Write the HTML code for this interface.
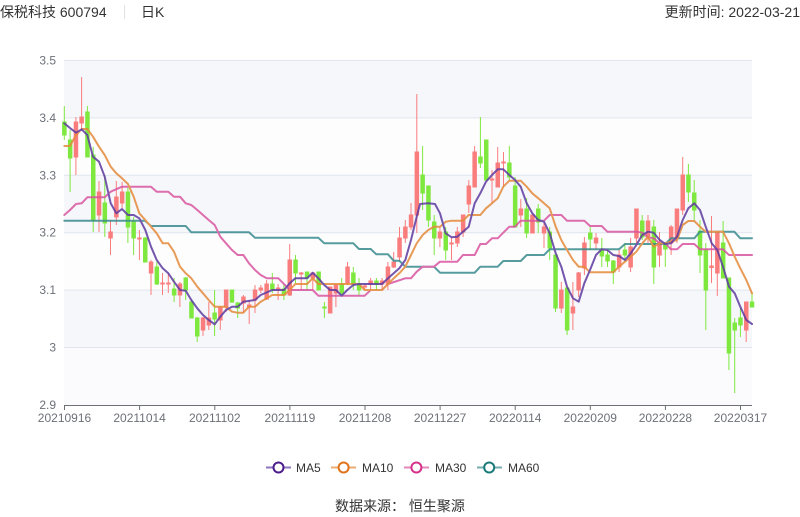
<!DOCTYPE html>
<html><head><meta charset="utf-8"><style>
html,body{margin:0;padding:0;background:#fff;}
body{width:800px;height:517px;overflow:hidden;position:relative;font-family:"Liberation Sans","Noto Sans CJK SC",sans-serif;}
.t{position:absolute;font-size:14px;color:#333;white-space:nowrap;}
</style></head><body>
<div class="t" style="left:0;top:2px;">保税科技 600794</div>
<div style="position:absolute;left:124px;top:5px;width:1px;height:14px;background:#e2e2e2;"></div>
<div class="t" style="left:141px;top:2px;">日K</div>
<div class="t" style="right:0;top:2px;">更新时间: 2022-03-21</div>
<svg width="800" height="517" style="position:absolute;left:0;top:0;" xmlns="http://www.w3.org/2000/svg">
<rect x="64" y="60.5" width="688" height="57.4" fill="#f5f7fb"/>
<rect x="64" y="117.9" width="688" height="57.4" fill="#fdfdfe"/>
<rect x="64" y="175.3" width="688" height="57.4" fill="#f5f7fb"/>
<rect x="64" y="232.7" width="688" height="57.4" fill="#fdfdfe"/>
<rect x="64" y="290.1" width="688" height="57.4" fill="#f5f7fb"/>
<rect x="64" y="347.5" width="688" height="57.4" fill="#fbfbfd"/>
<g stroke="#e0e5ee" stroke-width="1">
<line x1="64" x2="752" y1="60.5" y2="60.5"/>
<line x1="64" x2="752" y1="117.9" y2="117.9"/>
<line x1="64" x2="752" y1="175.3" y2="175.3"/>
<line x1="64" x2="752" y1="232.7" y2="232.7"/>
<line x1="64" x2="752" y1="290.1" y2="290.1"/>
<line x1="64" x2="752" y1="347.5" y2="347.5"/>
</g>
<g font-size="12" fill="#6e7079" text-anchor="end" font-family="Liberation Sans, sans-serif">
<text x="56" y="64.5">3.5</text>
<text x="56" y="121.9">3.4</text>
<text x="56" y="179.3">3.3</text>
<text x="56" y="236.7">3.2</text>
<text x="56" y="294.1">3.1</text>
<text x="56" y="351.5">3</text>
<text x="56" y="408.9">2.9</text>
</g>
<g stroke="#7ee83f" fill="#7ee83f">
<line x1="64.3" x2="64.3" y1="106" y2="140"/><rect x="62.6" y="122" width="3.5" height="13"/>
<line x1="70.1" x2="70.1" y1="130" y2="192"/><rect x="68.4" y="140" width="3.5" height="18"/>
<line x1="87.4" x2="87.4" y1="106" y2="157"/><rect x="85.7" y="112" width="3.5" height="45"/>
<line x1="93.2" x2="93.2" y1="147" y2="232"/><rect x="91.5" y="155" width="3.5" height="65"/>
<line x1="104.8" x2="104.8" y1="175" y2="237"/><rect x="103.1" y="203" width="3.5" height="20"/>
<line x1="127.9" x2="127.9" y1="188" y2="243"/><rect x="126.2" y="192" width="3.5" height="35"/>
<line x1="133.6" x2="133.6" y1="217" y2="255"/><rect x="131.9" y="222" width="3.5" height="16"/>
<line x1="145.2" x2="145.2" y1="237" y2="262"/><rect x="143.5" y="238" width="3.5" height="24"/>
<line x1="156.8" x2="156.8" y1="262" y2="285"/><rect x="155.1" y="267" width="3.5" height="17"/>
<line x1="174.1" x2="174.1" y1="278" y2="302"/><rect x="172.4" y="289" width="3.5" height="6"/>
<line x1="185.7" x2="185.7" y1="277" y2="300"/><rect x="184" y="278" width="3.5" height="12"/>
<line x1="191.4" x2="191.4" y1="300" y2="318"/><rect x="189.7" y="302" width="3.5" height="16"/>
<line x1="197.2" x2="197.2" y1="317" y2="342"/><rect x="195.5" y="318" width="3.5" height="18"/>
<line x1="214.6" x2="214.6" y1="290" y2="336"/><rect x="212.9" y="313" width="3.5" height="6"/>
<line x1="231.9" x2="231.9" y1="290" y2="303"/><rect x="230.2" y="290" width="3.5" height="12"/>
<line x1="237.7" x2="237.7" y1="302" y2="318"/><rect x="236" y="303" width="3.5" height="5"/>
<line x1="272.3" x2="272.3" y1="273" y2="293"/><rect x="270.6" y="284" width="3.5" height="6"/>
<line x1="283.9" x2="283.9" y1="284" y2="300"/><rect x="282.2" y="289" width="3.5" height="6"/>
<line x1="295.5" x2="295.5" y1="255" y2="283"/><rect x="293.8" y="260" width="3.5" height="13"/>
<line x1="307" x2="307" y1="272" y2="290"/><rect x="305.3" y="272" width="3.5" height="6"/>
<line x1="318.6" x2="318.6" y1="272" y2="290"/><rect x="316.9" y="272" width="3.5" height="18"/>
<line x1="324.4" x2="324.4" y1="302" y2="318"/><rect x="322.7" y="307" width="3.5" height="1"/>
<line x1="341.7" x2="341.7" y1="278" y2="295"/><rect x="340" y="284" width="3.5" height="9"/>
<line x1="353.3" x2="353.3" y1="267" y2="290"/><rect x="351.6" y="273" width="3.5" height="11"/>
<line x1="359" x2="359" y1="278" y2="295"/><rect x="357.3" y="284" width="3.5" height="6"/>
<line x1="376.4" x2="376.4" y1="278" y2="290"/><rect x="374.7" y="281" width="3.5" height="3"/>
<line x1="422.6" x2="422.6" y1="146" y2="210"/><rect x="420.9" y="175" width="3.5" height="18"/>
<line x1="428.4" x2="428.4" y1="186" y2="227"/><rect x="426.7" y="186" width="3.5" height="34"/>
<line x1="434.2" x2="434.2" y1="215" y2="255"/><rect x="432.5" y="222" width="3.5" height="16"/>
<line x1="445.7" x2="445.7" y1="227" y2="260"/><rect x="444" y="232" width="3.5" height="18"/>
<line x1="480.4" x2="480.4" y1="117" y2="168"/><rect x="478.7" y="157" width="3.5" height="6"/>
<line x1="486.2" x2="486.2" y1="140" y2="180"/><rect x="484.5" y="140" width="3.5" height="40"/>
<line x1="509.3" x2="509.3" y1="146" y2="180"/><rect x="507.6" y="163" width="3.5" height="14"/>
<line x1="515.1" x2="515.1" y1="177" y2="227"/><rect x="513.4" y="186" width="3.5" height="41"/>
<line x1="526.6" x2="526.6" y1="198" y2="238"/><rect x="524.9" y="209" width="3.5" height="24"/>
<line x1="538.2" x2="538.2" y1="204" y2="233"/><rect x="536.5" y="209" width="3.5" height="13"/>
<line x1="549.7" x2="549.7" y1="227" y2="260"/><rect x="548" y="232" width="3.5" height="16"/>
<line x1="555.5" x2="555.5" y1="255" y2="312"/><rect x="553.8" y="255" width="3.5" height="53"/>
<line x1="567.1" x2="567.1" y1="288" y2="335"/><rect x="565.4" y="288" width="3.5" height="42"/>
<line x1="590.2" x2="590.2" y1="227" y2="250"/><rect x="588.5" y="233" width="3.5" height="6"/>
<line x1="601.8" x2="601.8" y1="238" y2="267"/><rect x="600.1" y="250" width="3.5" height="6"/>
<line x1="607.5" x2="607.5" y1="250" y2="267"/><rect x="605.8" y="255" width="3.5" height="6"/>
<line x1="613.3" x2="613.3" y1="260" y2="284"/><rect x="611.6" y="261" width="3.5" height="11"/>
<line x1="624.9" x2="624.9" y1="243" y2="261"/><rect x="623.2" y="250" width="3.5" height="5"/>
<line x1="642.2" x2="642.2" y1="215" y2="240"/><rect x="640.5" y="221" width="3.5" height="16"/>
<line x1="653.8" x2="653.8" y1="220" y2="284"/><rect x="652.1" y="227" width="3.5" height="40"/>
<line x1="665.3" x2="665.3" y1="243" y2="267"/><rect x="663.6" y="243" width="3.5" height="6"/>
<line x1="688.4" x2="688.4" y1="164" y2="202"/><rect x="686.7" y="175" width="3.5" height="17"/>
<line x1="694.2" x2="694.2" y1="180" y2="220"/><rect x="692.5" y="193" width="3.5" height="17"/>
<line x1="700" x2="700" y1="220" y2="273"/><rect x="698.3" y="231" width="3.5" height="24"/>
<line x1="705.8" x2="705.8" y1="243" y2="330"/><rect x="704.1" y="250" width="3.5" height="40"/>
<line x1="723.1" x2="723.1" y1="221" y2="278"/><rect x="721.4" y="243" width="3.5" height="35"/>
<line x1="728.9" x2="728.9" y1="278" y2="370"/><rect x="727.2" y="278" width="3.5" height="75"/>
<line x1="734.7" x2="734.7" y1="318" y2="393"/><rect x="733" y="323" width="3.5" height="7"/>
<line x1="740.4" x2="740.4" y1="308" y2="337"/><rect x="738.7" y="318" width="3.5" height="7"/>
<line x1="752" x2="752" y1="292" y2="307"/><rect x="750.3" y="302" width="3.5" height="5"/>
</g>
<g stroke="#fa7d7d" fill="#fa7d7d">
<line x1="75.9" x2="75.9" y1="117" y2="175"/><rect x="74.2" y="122" width="3.5" height="35"/>
<line x1="81.6" x2="81.6" y1="77" y2="130"/><rect x="79.9" y="117" width="3.5" height="6"/>
<line x1="99" x2="99" y1="181" y2="232"/><rect x="97.3" y="192" width="3.5" height="23"/>
<line x1="110.5" x2="110.5" y1="220" y2="255"/><rect x="108.8" y="232" width="3.5" height="6"/>
<line x1="116.3" x2="116.3" y1="181" y2="225"/><rect x="114.6" y="197" width="3.5" height="20"/>
<line x1="122.1" x2="122.1" y1="182" y2="208"/><rect x="120.4" y="192" width="3.5" height="11"/>
<line x1="139.4" x2="139.4" y1="230" y2="260"/><rect x="137.7" y="238" width="3.5" height="1"/>
<line x1="151" x2="151" y1="260" y2="295"/><rect x="149.3" y="262" width="3.5" height="11"/>
<line x1="162.5" x2="162.5" y1="273" y2="295"/><rect x="160.8" y="283" width="3.5" height="1"/>
<line x1="168.3" x2="168.3" y1="273" y2="293"/><rect x="166.6" y="283" width="3.5" height="1"/>
<line x1="179.9" x2="179.9" y1="282" y2="307"/><rect x="178.2" y="284" width="3.5" height="11"/>
<line x1="203" x2="203" y1="317" y2="336"/><rect x="201.3" y="318" width="3.5" height="12"/>
<line x1="208.8" x2="208.8" y1="302" y2="330"/><rect x="207.1" y="318" width="3.5" height="7"/>
<line x1="220.3" x2="220.3" y1="307" y2="330"/><rect x="218.6" y="307" width="3.5" height="13"/>
<line x1="226.1" x2="226.1" y1="290" y2="312"/><rect x="224.4" y="290" width="3.5" height="17"/>
<line x1="243.4" x2="243.4" y1="295" y2="313"/><rect x="241.7" y="297" width="3.5" height="6"/>
<line x1="249.2" x2="249.2" y1="300" y2="324"/><rect x="247.5" y="305" width="3.5" height="2"/>
<line x1="255" x2="255" y1="285" y2="313"/><rect x="253.3" y="290" width="3.5" height="10"/>
<line x1="260.8" x2="260.8" y1="285" y2="293"/><rect x="259.1" y="288" width="3.5" height="2"/>
<line x1="266.6" x2="266.6" y1="280" y2="300"/><rect x="264.9" y="284" width="3.5" height="15"/>
<line x1="278.1" x2="278.1" y1="284" y2="300"/><rect x="276.4" y="288" width="3.5" height="1"/>
<line x1="289.7" x2="289.7" y1="244" y2="296"/><rect x="288" y="260" width="3.5" height="35"/>
<line x1="301.2" x2="301.2" y1="272" y2="290"/><rect x="299.5" y="273" width="3.5" height="1"/>
<line x1="312.8" x2="312.8" y1="273" y2="290"/><rect x="311.1" y="273" width="3.5" height="5"/>
<line x1="330.1" x2="330.1" y1="287" y2="313"/><rect x="328.4" y="287" width="3.5" height="26"/>
<line x1="335.9" x2="335.9" y1="284" y2="307"/><rect x="334.2" y="285" width="3.5" height="8"/>
<line x1="347.5" x2="347.5" y1="262" y2="285"/><rect x="345.8" y="267" width="3.5" height="16"/>
<line x1="364.8" x2="364.8" y1="284" y2="290"/><rect x="363.1" y="286" width="3.5" height="1"/>
<line x1="370.6" x2="370.6" y1="278" y2="290"/><rect x="368.9" y="281" width="3.5" height="3"/>
<line x1="382.1" x2="382.1" y1="278" y2="290"/><rect x="380.4" y="281" width="3.5" height="3"/>
<line x1="387.9" x2="387.9" y1="262" y2="290"/><rect x="386.2" y="267" width="3.5" height="17"/>
<line x1="393.7" x2="393.7" y1="252" y2="268"/><rect x="392" y="262" width="3.5" height="5"/>
<line x1="399.5" x2="399.5" y1="227" y2="262"/><rect x="397.8" y="238" width="3.5" height="19"/>
<line x1="405.3" x2="405.3" y1="220" y2="243"/><rect x="403.6" y="227" width="3.5" height="11"/>
<line x1="411" x2="411" y1="203" y2="230"/><rect x="409.3" y="215" width="3.5" height="12"/>
<line x1="416.8" x2="416.8" y1="94" y2="233"/><rect x="415.1" y="152" width="3.5" height="63"/>
<line x1="439.9" x2="439.9" y1="227" y2="247"/><rect x="438.2" y="232" width="3.5" height="6"/>
<line x1="451.5" x2="451.5" y1="237" y2="260"/><rect x="449.8" y="243" width="3.5" height="1"/>
<line x1="457.3" x2="457.3" y1="227" y2="247"/><rect x="455.6" y="232" width="3.5" height="11"/>
<line x1="463.1" x2="463.1" y1="215" y2="237"/><rect x="461.4" y="215" width="3.5" height="17"/>
<line x1="468.8" x2="468.8" y1="180" y2="213"/><rect x="467.1" y="186" width="3.5" height="18"/>
<line x1="474.6" x2="474.6" y1="146" y2="187"/><rect x="472.9" y="152" width="3.5" height="35"/>
<line x1="492" x2="492" y1="170" y2="203"/><rect x="490.3" y="179" width="3.5" height="1"/>
<line x1="497.7" x2="497.7" y1="147" y2="187"/><rect x="496" y="163" width="3.5" height="24"/>
<line x1="503.5" x2="503.5" y1="152" y2="187"/><rect x="501.8" y="162" width="3.5" height="1"/>
<line x1="520.8" x2="520.8" y1="199" y2="227"/><rect x="519.1" y="209" width="3.5" height="6"/>
<line x1="532.4" x2="532.4" y1="215" y2="233"/><rect x="530.7" y="215" width="3.5" height="18"/>
<line x1="544" x2="544" y1="222" y2="248"/><rect x="542.3" y="227" width="3.5" height="6"/>
<line x1="561.3" x2="561.3" y1="282" y2="313"/><rect x="559.6" y="290" width="3.5" height="18"/>
<line x1="572.9" x2="572.9" y1="282" y2="330"/><rect x="571.2" y="307" width="3.5" height="6"/>
<line x1="578.6" x2="578.6" y1="272" y2="297"/><rect x="576.9" y="273" width="3.5" height="17"/>
<line x1="584.4" x2="584.4" y1="237" y2="275"/><rect x="582.7" y="243" width="3.5" height="25"/>
<line x1="596" x2="596" y1="233" y2="250"/><rect x="594.3" y="238" width="3.5" height="5"/>
<line x1="619.1" x2="619.1" y1="250" y2="272"/><rect x="617.4" y="255" width="3.5" height="12"/>
<line x1="630.6" x2="630.6" y1="238" y2="272"/><rect x="628.9" y="247" width="3.5" height="20"/>
<line x1="636.4" x2="636.4" y1="209" y2="243"/><rect x="634.7" y="209" width="3.5" height="29"/>
<line x1="648" x2="648" y1="215" y2="243"/><rect x="646.3" y="221" width="3.5" height="16"/>
<line x1="659.5" x2="659.5" y1="232" y2="267"/><rect x="657.8" y="243" width="3.5" height="12"/>
<line x1="671.1" x2="671.1" y1="225" y2="255"/><rect x="669.4" y="227" width="3.5" height="16"/>
<line x1="676.9" x2="676.9" y1="209" y2="243"/><rect x="675.2" y="209" width="3.5" height="29"/>
<line x1="682.7" x2="682.7" y1="157" y2="215"/><rect x="681" y="175" width="3.5" height="35"/>
<line x1="711.5" x2="711.5" y1="216" y2="283"/><rect x="709.8" y="266" width="3.5" height="1.5"/>
<line x1="717.3" x2="717.3" y1="232" y2="296"/><rect x="715.6" y="232" width="3.5" height="41"/>
<line x1="746.2" x2="746.2" y1="302" y2="342"/><rect x="744.5" y="302" width="3.5" height="28"/>
</g>
<g fill="none" stroke-width="2" stroke-linejoin="round" stroke-linecap="round" opacity="0.85">
<polyline stroke="#3a8a8e" points="64.3,220.7 145,220.7 151,226 185.7,226 191.3,232.3 249,232.3 255,237.7 318.3,237.7 324.3,243.3 353.3,243.3 359,249 370.7,249 376.3,254.3 388,254.3 393.7,260.7 399.3,260.7 405.3,266.7 434,266.7 440,272.7 474.7,272.7 480.3,266.7 497.7,266.7 503.3,261 520.7,261 526.7,255 544,255 549.7,249.3 619,249.3 625,244 665.3,244 671,238.3 694.3,238.3 700,231.7 734.3,231.7 740.3,238.3 752,238.3"/>
<polyline stroke="#d9559f" points="64.3,215 70,210 76,204 81.7,203.3 87.3,197.3 104.7,197.3 110.7,191.7 122,186.7 151,186.7 156.7,191.7 168.3,191.7 174,196.7 180,196.7 185.7,203.3 191.3,205 197.3,210 203,215 208.7,220 214.7,225 220.3,236.7 226,243.3 232,250 237.7,255 243.3,255 249,263.3 255,270 260.7,275 266.7,278.3 278.3,278.3 284,284 289.7,290 312.7,290 318.3,295.7 364.7,295.7 370.7,290 382,290 388,284 405.3,278.3 411,278.3 416.7,271.7 422.7,266.7 434,266.7 440,261.7 457.3,261.7 463,255 474.7,255 480.3,244 486,244 492,238.3 497.7,238.3 503.3,232.7 509.3,226.7 515,226.7 520.7,220.7 544,220.7 549.7,215 561.3,215 567,220.7 584.3,220.7 590,226 601.7,226 607.3,231.7 636.3,231.7 642.3,232.7 648,237.3 653.7,238.3 659.7,243.3 665.3,243.3 671,249.3 677,249.3 682.7,244 694.3,244 700,249.3 723,249.3 729,255 752,255"/>
<polyline stroke="#e58a3a" points="64.3,146 70,146 76,135 81.7,129 87.3,129 93,136.7 99,146.7 104.7,155 110.7,166.7 116.3,173.3 122,178.3 128,184 133.7,196.7 139.3,213.3 145.3,220 151,226.7 156.7,233.3 162.7,243.3 168.3,243.3 174,251.7 180,266.7 185.7,273.3 191.3,278.3 197.3,286.7 203,293.3 208.7,300 214.7,306.7 226,306.7 232,311.7 237.7,312.7 243.3,312.7 249,306.7 255,306.7 260.7,301.7 272.3,295 284,295 289.7,290 295.3,284 307,284 312.7,278.3 318.3,284 359,284 364.7,290 382,290 388,284 393.7,278.3 399.3,273.3 405.3,266.7 411,255 416.7,243.3 422.7,235 428.3,230 434,226.7 440,226.7 445.7,221.7 451.7,220.7 463,220.7 468.7,215 480.3,215 486,208.3 492,203.3 497.7,198.3 503.3,186.7 509.3,180.7 520.7,180.7 526.7,186.7 532.3,193.3 538.3,198.3 544,203.3 549.7,208.3 555.7,226.7 561.3,240 567,250 573,260 578.7,266.7 584.3,266.7 590,272.3 613.3,272.3 619,266.7 625,261.7 630.7,256.7 636.3,251.7 642.3,243.3 648,236.7 653.7,246.7 659.7,243.3 665.3,243.3 677,240 682.7,225 688.3,221 694.3,221 700,226.7 705.7,231.7 723,231.7 729,243.3 734.7,256.7 740.3,268.3 746.3,280 752,293.3"/>
<polyline stroke="#5e3aa0" points="64.3,123.3 70,128 76,132.7 81.7,129.3 87.3,135 93,156.7 99,161.7 104.7,176.7 110.7,203.3 116.3,213.3 122,209 128,215 133.7,215 139.3,218.3 145.3,230 151,246.7 156.7,260 162.7,268.3 168.3,273.3 174,281.7 180,290 185.7,290.7 191.3,300 197.3,308.3 203,315 208.7,320 214.7,324.3 220.3,316.7 226,310 232,306.7 237.7,306.7 243.3,301.7 255,300 260.7,295 272.3,290 284,290 289.7,283.3 295.3,278.3 307,278.3 312.7,272.7 318.3,278.3 324.3,285 330,290 336,290 341.7,295.7 347.3,290 353.3,285 359,284 382,284 388,278.3 393.7,273.3 399.3,268.3 405.3,260 411,240 416.7,216.7 420,204 428.3,203.3 435,204 440,213.3 445.7,233.3 451.7,237.3 457.3,236.7 463,231.7 468.7,226.7 474.7,203.3 480.3,193.3 486,181.7 492,175 497.7,169.3 503.3,169.3 509.3,175 515,180 520.7,186.7 526.7,203.3 532.3,213.3 538.3,220 544,221.7 549.7,233.3 555.7,253.3 561.3,266.7 567,286.7 573,298.3 578.7,301.7 584.3,283.3 590,270 596,255 601.7,249.3 607.3,250 613.3,255 619,256 625,260 630.7,253.3 636.3,245 642.3,235 648,231.7 653.7,232.7 659.7,240 665.3,244 671,243.3 677,236.7 682.7,220 688.3,208.3 694.3,203.3 700,210 705.7,226.7 711.7,243.3 717.3,250 723,266.7 729,286.7 734.7,293.3 740.3,306.7 746.3,320 752,324"/>
</g>
<line x1="64" x2="752" y1="405.5" y2="405.5" stroke="#6e7079" stroke-width="1"/>
<g stroke="#6e7079" stroke-width="1">
<line x1="64.5" x2="64.5" y1="405" y2="410"/>
<line x1="139.6" x2="139.6" y1="405" y2="410"/>
<line x1="214.8" x2="214.8" y1="405" y2="410"/>
<line x1="289.9" x2="289.9" y1="405" y2="410"/>
<line x1="365" x2="365" y1="405" y2="410"/>
<line x1="440.1" x2="440.1" y1="405" y2="410"/>
<line x1="515.2" x2="515.2" y1="405" y2="410"/>
<line x1="590.3" x2="590.3" y1="405" y2="410"/>
<line x1="665.4" x2="665.4" y1="405" y2="410"/>
<line x1="740.5" x2="740.5" y1="405" y2="410"/>
</g>
<g font-size="12" fill="#6e7079" text-anchor="middle" font-family="Liberation Sans, sans-serif">
<text x="64.5" y="422">20210916</text>
<text x="139.6" y="422">20211014</text>
<text x="214.8" y="422">20211102</text>
<text x="289.9" y="422">20211119</text>
<text x="365" y="422">20211208</text>
<text x="440.1" y="422">20211227</text>
<text x="515.2" y="422">20220114</text>
<text x="590.3" y="422">20220209</text>
<text x="665.4" y="422">20220228</text>
<text x="740.5" y="422">20220317</text>
</g>
<g font-size="12" fill="#333" font-family="Liberation Sans, sans-serif">
<line x1="266" x2="291" y1="467.5" y2="467.5" stroke="#5e3aa0" stroke-width="2" opacity="0.7"/>
<circle cx="278.5" cy="467.5" r="5" fill="#fff" stroke="#4b1c8c" stroke-width="2"/>
<text x="296" y="472">MA5</text>
<line x1="331" x2="356" y1="467.5" y2="467.5" stroke="#e58a3a" stroke-width="2" opacity="0.7"/>
<circle cx="343.6" cy="467.5" r="5" fill="#fff" stroke="#e0731a" stroke-width="2"/>
<text x="362" y="472">MA10</text>
<line x1="404" x2="429" y1="467.5" y2="467.5" stroke="#d9559f" stroke-width="2" opacity="0.7"/>
<circle cx="416.4" cy="467.5" r="5" fill="#fff" stroke="#d6308a" stroke-width="2"/>
<text x="435" y="472">MA30</text>
<line x1="477" x2="502" y1="467.5" y2="467.5" stroke="#3a8a8e" stroke-width="2" opacity="0.7"/>
<circle cx="489.2" cy="467.5" r="5" fill="#fff" stroke="#1a7a7a" stroke-width="2"/>
<text x="508" y="472">MA60</text>
</g>
<text x="400" y="511" font-size="14" fill="#333" text-anchor="middle" font-family="Liberation Sans, Noto Sans CJK SC, sans-serif">数据来源： 恒生聚源</text>
</svg>
</body></html>
